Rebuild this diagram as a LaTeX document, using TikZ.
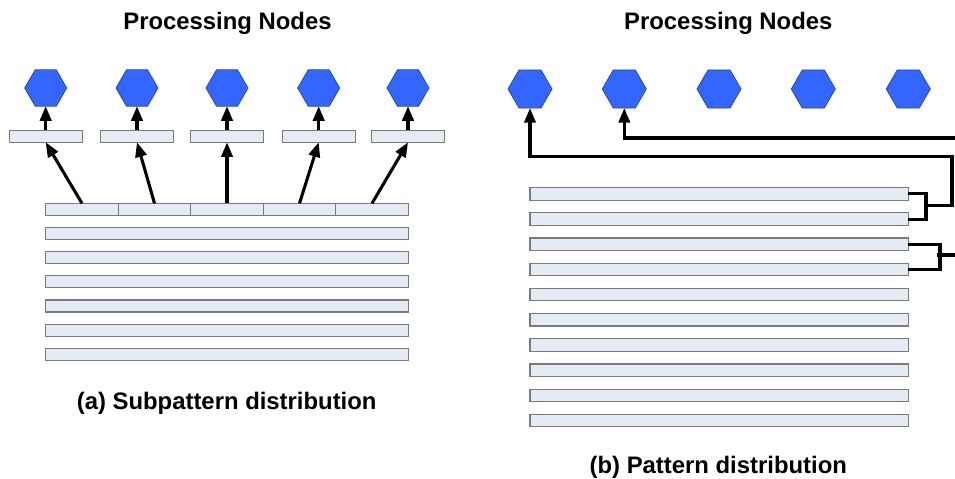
\documentclass[tikz,border=0pt]{standalone}
\usepackage{fontspec}
\setmainfont{Liberation Sans}
\usetikzlibrary{shapes.geometric,arrows.meta}
\definecolor{hexfill}{HTML}{3366FF}
\definecolor{hexline}{HTML}{2A4A9E}
\definecolor{barfill}{HTML}{E4EBF5}
\definecolor{barline}{HTML}{7A7A7A}
\begin{document}
\begin{tikzpicture}[x=0.75pt,y=-0.75pt,
  hexnode/.style={regular polygon, regular polygon sides=6, fill=hexfill,
    draw=hexline, line width=0.6pt, inner sep=0pt, outer sep=0pt, minimum size=#1},
  bar/.style 2 args={rectangle, fill=barfill, draw=barline, line width=0.9pt,
    inner sep=0pt, outer sep=0pt, minimum height=#2, minimum width=#1},
  link/.style={line width=2.3pt, -{Triangle[length=11pt,width=8.5pt]}},
  wire/.style={line width=2.3pt},
  heading/.style={font=\bfseries\fontsize{17.9}{20}\selectfont, anchor=base, inner sep=0pt},
]
\clip (0,0) rectangle (955,478);
\fill[white] (0,0) rectangle (955,478);

% ---------- (a) subpattern distribution ----------
\node[heading] (ta) at (227.5,30) {Processing Nodes};
\foreach \i/\x in {1/45.7,2/137,3/227,4/318.7,5/408}{
  \node[hexnode=31.5pt] (lh\i) at (\x,88) {};
  \node[bar={54.75pt}{9pt}] (sb\i) at (\x,136.3) {};
}
\foreach \i/\x in {1/81.96,2/154.5,3/227,4/299.5,5/372.04}{
  \node[bar={54.4pt}{9pt}] (sg\i) at (\x,209.3) {};
}
\foreach \k in {1,...,6}{
  \node[bar={272pt}{9pt}] (la\k) at (227,209.3+24.17*\k) {};
}
\foreach \i in {1,...,5}{
  \draw[link] (sg\i.north) -- (sb\i.south);
  \draw[link] (sb\i.north) -- (lh\i.south);
}
\node[heading] (ca) at (226.7,409.3) {(a) Subpattern distribution};

% ---------- (b) pattern distribution ----------
\node[heading] (tb) at (728.3,30) {Processing Nodes};
\foreach \i/\x in {1/530,2/624.3,3/719,4/813.3,5/908.3}{
  \node[hexnode=33pt] (rh\i) at (\x,89) {};
}
\foreach \k in {1,...,10}{
  \node[bar={283.7pt}{9.3pt}] (r\k) at (719.15,193.9+25.18*\k-25.18) {};
}
\coordinate (b1) at (926,205.5);
\coordinate (t1) at (952,156.5);
\coordinate (b2) at (940,255);
\coordinate (b2s) at (936.5,255);
\coordinate (e2) at (962,255);
\coordinate (e1) at (962,138);

\draw[wire] (r1.east) -| (b1) |- (r2.east);
\draw[link] (b1) -| (t1) -| (rh1.south);
\draw[wire] (r3.east) -| (b2) |- (r4.east);
\draw[wire] (b2s) -- (e2);
\draw[link] (e1) -| (rh2.south);

\node[heading] (cb) at (718.3,473) {(b) Pattern distribution};
\end{tikzpicture}
\end{document}
